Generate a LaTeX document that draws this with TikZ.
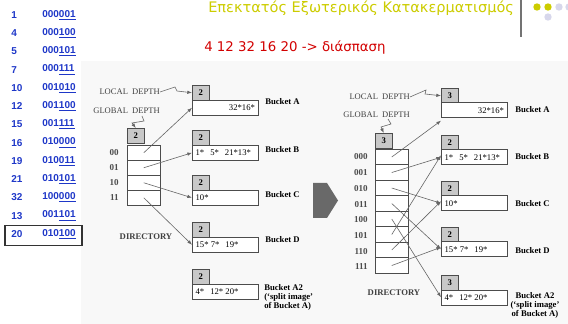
\documentclass[tikz,border=0pt]{standalone}
\usepackage{fontspec}
\setmainfont{Liberation Serif}
\newfontfamily\titlefont{DejaVu Sans}
\newfontfamily\listfont{Liberation Sans}
\usetikzlibrary{arrows.meta}

\definecolor{listblue}{RGB}{30,55,200}
\definecolor{titleyellow}{RGB}{204,204,0}
\definecolor{splitred}{RGB}{210,0,0}
\definecolor{depthgray}{RGB}{200,200,200}
\definecolor{paneback}{RGB}{248,248,248}
\definecolor{dotlilac}{RGB}{215,215,235}
\definecolor{bigarrow}{RGB}{105,105,105}

\tikzset{
  depthbox/.style={draw=black!70, fill=depthgray, minimum width=12.75pt, minimum height=11.25pt, inner sep=0pt, anchor=north west, font=\fontsize{6.5}{7}\selectfont\bfseries},
  databox/.style={draw=black!70, fill=white, minimum width=49.5pt, minimum height=11.25pt, inner sep=0pt, anchor=north west},
  dircell/.style={draw=black!70, fill=white, minimum width=24.75pt, minimum height=11.25pt, inner sep=0pt, anchor=north west},
  entries/.style={font=\fontsize{6.5}{7}\selectfont, inner sep=2.5pt},
  bucketlabel/.style={font=\fontsize{6.5}{7}\selectfont\bfseries, anchor=west, inner sep=0pt, align=left},
  rowlabel/.style={font=\fontsize{6.8}{8}\selectfont\bfseries, anchor=east, inner sep=0pt, text=black!70},
  depthnote/.style={font=\fontsize{6.4}{7}\selectfont, anchor=east, inner sep=0pt, text=black!75},
  ptr/.style={draw=black!60, line width=0.45pt, -{Latex[length=3.5pt,width=2.6pt]}},
  listnum/.style={font=\listfont\fontsize{7.5}{9}\selectfont\bfseries, text=listblue, anchor=west, inner sep=0pt}
}
\newcommand{\gap}{\hspace{4.5pt}}

\begin{document}
\begin{tikzpicture}[x=0.75pt,y=0.75pt,yscale=-1,xscale=1]
\useasboundingbox (0,0) rectangle (568,324);
\fill[paneback] (81,61) rectangle (568,324);

% heading
\node[anchor=base west, inner sep=0pt, text=titleyellow, font=\titlefont\fontsize{10.9}{13}\selectfont] (title) at (208,13) {Επεκτατός Εξωτερικός Κατακερματισμός};
\draw[black!55, line width=1.2pt] (521,0) -- (521,37);
\fill[titleyellow] (537,7) circle (3.7);
\fill[titleyellow] (548,7) circle (3.7);
\fill[dotlilac] (559,7) circle (3.7);
\fill[dotlilac] (569,7) circle (3.7);
\fill[dotlilac] (548,17) circle (3.7);
\node[anchor=base west, inner sep=0pt, text=splitred, font=\titlefont\fontsize{10}{12}\selectfont] (split) at (204,52) {4 12 32 16 20 -> διάσπαση};

% keys and hash values
\foreach \key/\hi/\lo [count=\i from 0] in {1/000/001, 4/000/100, 5/000/101, 7/000/111, 10/001/010, 12/001/100, 15/001/111, 16/010/000, 19/010/011, 21/010/101, 32/100/000, 13/001/101, 20/010/100} {
  \node[listnum] (key\i) at (11,{15+18.25*\i}) {\key};
  \node[listnum] (hash\i) at (42,{15+18.25*\i}) {\hi\underline{\lo}};
}
\draw[black!80, line width=0.8pt] (5,225.5) rectangle (82,245.5);

% before the split
\node[depthbox] (ldepth) at (127,128) {2};
\foreach \lab [count=\i from 0] in {00,01,10,11} {
  \node[dircell] (lcell\i) at (127,{145+15*\i}) {};
  \node[rowlabel] (lrow\i) at (119,{153+15*\i}) {\lab};
}
\node[font=\fontsize{6.5}{7}\selectfont\bfseries, text=black!75, inner sep=0pt] (ldir) at (146,237) {DIRECTORY};

\foreach \b/\y/\d in {A/85/2, B/130/2, C/175/2, D/222/2, A2/269/2} {
  \node[depthbox] (ldepth\b) at (192,\y) {\d};
  \node[databox] (ldata\b) at (192,\y+15) {};
}
\node[entries, anchor=east] (lkeysA) at (ldataA.east) {32*16*};
\node[entries, anchor=west] (lkeysB) at (ldataB.west) {1*\gap 5*\gap 21*13*};
\node[entries, anchor=west] (lkeysC) at (ldataC.west) {10*};
\node[entries, anchor=west] (lkeysD) at (ldataD.west) {15*\ 7*\gap 19*};
\node[entries, anchor=west] (lkeysA2) at (ldataA2.west) {4*\gap 12*\ 20*};

\node[bucketlabel] (lnameA) at (265,102) {Bucket A};
\node[bucketlabel] (lnameB) at (265,150) {Bucket B};
\node[bucketlabel] (lnameC) at (265,195) {Bucket C};
\node[bucketlabel] (lnameD) at (265,240) {Bucket D};
\node[bucketlabel, anchor=north west] (lnameA2) at (264,284) {Bucket A2\\(`split image'\\of Bucket A)};

\node[depthnote] (llocal) at (160,92) {LOCAL\ \ DEPTH};
\node[depthnote] (lglobal) at (160,111) {GLOBAL\ \ DEPTH};
\draw[ptr] (llocal.east) -- (175,87) -- (177,91) -- (ldepthA.west);
\draw[ptr] (142,116) -- (144,121) -- (132,123) -- (ldepth.north);

\draw[ptr] (lcell0.center) -- (ldataA.west);
\draw[ptr] (lcell1.center) -- (ldataB.west);
\draw[ptr] (lcell2.center) -- (ldataC.west);
\draw[ptr] (lcell3.center) -- (ldataD.west);

% arrow between the two states
\fill[bigarrow] (313,183) -- (327,183) -- (338,200.5) -- (327,218) -- (313,218) -- cycle;

% after the split
\node[depthbox] (rdepth) at (375,133) {3};
\foreach \lab [count=\i from 0] in {000,001,010,011,100,101,110,111} {
  \node[dircell, minimum height=11.63pt] (rcell\i) at (375,{149+15.5*\i}) {};
  \node[rowlabel] (rrow\i) at (368,{157+15.7*\i}) {\lab};
}
\node[font=\fontsize{6.5}{7}\selectfont\bfseries, text=black!75, inner sep=0pt] (rdir) at (394,293) {DIRECTORY};

\foreach \b/\y/\d in {A/88/3, B/135/2, C/181/2, D/227/2, A2/275/3} {
  \node[depthbox] (rdepth\b) at (441,\y) {\d};
  \node[databox] (rdata\b) at (441,\y+14.5) {};
}
\node[entries, anchor=east] (rkeysA) at (rdataA.east) {32*16*};
\node[entries, anchor=west] (rkeysB) at (rdataB.west) {1*\gap 5*\gap 21*13*};
\node[entries, anchor=west] (rkeysC) at (rdataC.west) {10*};
\node[entries, anchor=west] (rkeysD) at (rdataD.west) {15*\ 7*\gap 19*};
\node[entries, anchor=west] (rkeysA2) at (rdataA2.west) {4*\gap 12*\ 20*};

\node[bucketlabel] (rnameA) at (515,110) {Bucket A};
\node[bucketlabel] (rnameB) at (515,157) {Bucket B};
\node[bucketlabel] (rnameC) at (515,204) {Bucket C};
\node[bucketlabel] (rnameD) at (515,251) {Bucket D};
\node[bucketlabel, anchor=north, align=center] (rnameA2) at (535,292) {Bucket A2\\(`split image'\\of Bucket A)};

\node[depthnote] (rlocal) at (410,97) {LOCAL\ \ DEPTH};
\node[depthnote] (rglobal) at (410,115) {GLOBAL\ \ DEPTH};
\draw[ptr] (rlocal.east) -- (426,90) -- (425,94) -- (rdepthA.west);
\draw[ptr] (388,119) -- (391,124) -- (381,127) -- (rdepth.north);

\draw[ptr] (rcell0.center) -- ([yshift=2pt]rdataA.south west);
\draw[ptr] (rcell1.center) -- (rdataB.west);
\draw[ptr] (rcell2.center) -- (rdataC.west);
\draw[ptr] (rcell3.center) -- (rdataD.west);
\draw[ptr] (rcell4.center) -- (rdataA2.west);
\draw[ptr] (rcell5.center) -- ([yshift=-1.5pt]rdataB.west);
\draw[ptr] (rcell6.center) -- ([yshift=-1.5pt]rdataC.west);
\draw[ptr] (rcell7.center) -- ([yshift=-1.5pt]rdataD.west);
\end{tikzpicture}
\end{document}
